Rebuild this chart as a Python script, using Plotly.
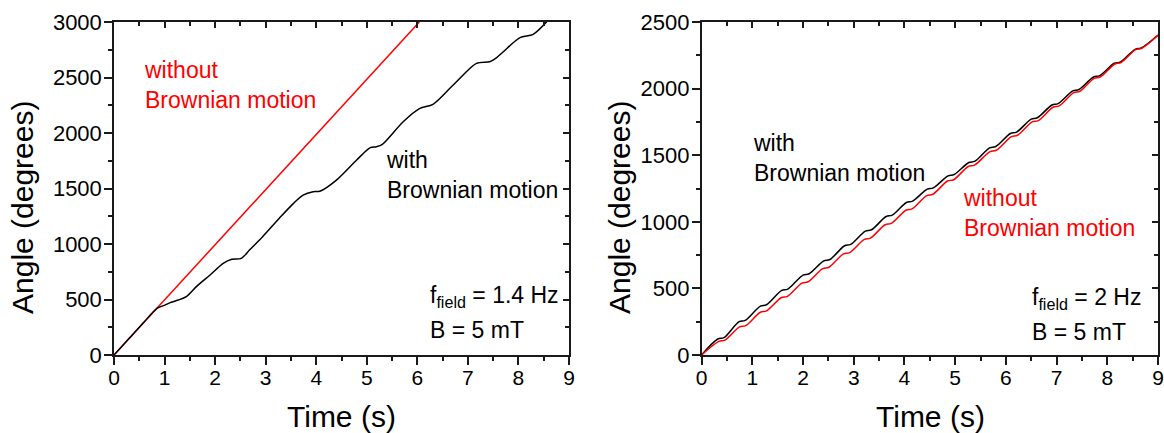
import plotly.graph_objects as go

# ---- Panel 1: f_field = 1.4 Hz, B = 5 mT ----
t_free_1 = [0.0, 6.04]
ang_free_1 = [0, 3000]

t_brown_1 = [0.0, 0.30, 0.60, 0.85, 0.98, 1.10, 1.27, 1.43, 1.63, 1.90, 2.16, 2.33,
             2.52, 2.68, 2.94, 3.27, 3.55, 3.74, 3.94, 4.07, 4.40, 4.80, 5.07, 5.19,
             5.30, 5.72, 6.05, 6.31, 6.71, 7.17, 7.43, 7.57, 7.70, 8.03, 8.29, 8.56]
ang_brown_1 = [0, 150, 300, 420, 445, 470, 495, 526, 616, 721, 826, 862,
               871, 946, 1066, 1232, 1366, 1441, 1471, 1475, 1576, 1757, 1868, 1877,
               1895, 2102, 2222, 2258, 2432, 2627, 2642, 2680, 2732, 2859, 2889, 3003]

# ---- Panel 2: f_field = 2 Hz, B = 5 mT ----
t_free_2 = [0.0, 0.34, 0.46, 0.75, 0.87, 1.16, 1.28, 1.57, 1.69, 1.98, 2.10, 2.39, 2.51,
            2.80, 2.92, 3.21, 3.33, 3.62, 3.74, 4.03, 4.15, 4.44, 4.56, 4.85, 4.97,
            5.26, 5.38, 5.69, 5.81, 6.11, 6.23, 6.52, 6.64, 6.93, 7.05, 7.34, 7.46,
            7.74, 7.86, 8.15, 8.27, 8.56, 8.68, 9.0]
ang_free_2 = [0, 102, 112, 211, 221, 321, 331, 430, 440, 540, 550, 649, 659,
              759, 769, 868, 878, 978, 988, 1087, 1097, 1197, 1207, 1306, 1316,
              1415, 1425, 1527, 1537, 1640, 1650, 1750, 1760, 1860, 1870, 1970, 1980,
              2077, 2087, 2185, 2195, 2293, 2303, 2400]

t_brown_2 = [0.0, 0.32, 0.44, 0.74, 0.86, 1.16, 1.28, 1.58, 1.70, 2.00, 2.12, 2.41, 2.53,
             2.82, 2.94, 3.23, 3.35, 3.64, 3.76, 4.04, 4.16, 4.45, 4.57, 4.86, 4.98,
             5.27, 5.39, 5.68, 5.80, 6.09, 6.21, 6.50, 6.62, 6.91, 7.03, 7.32, 7.44,
             7.73, 7.85, 8.14, 8.26, 8.55, 8.67, 9.0]
ang_brown_2 = [0, 120, 130, 250, 260, 367, 377, 485, 495, 600, 610, 707, 717,
               820, 830, 930, 940, 1040, 1050, 1145, 1155, 1245, 1255, 1345, 1355,
               1445, 1455, 1555, 1565, 1663, 1673, 1771, 1781, 1877, 1887, 1983, 1993,
               2087, 2097, 2190, 2200, 2295, 2305, 2402]

W, H = 1164, 433


def px(x):
    return x / W


def py(y):
    return 1 - y / H


RED = "#ff0000"
INK = "#1a1a1a"
FONT = "Arial, Liberation Sans, sans-serif"

fig = go.Figure()
fig.add_trace(go.Scatter(x=t_free_1, y=ang_free_1, xaxis="x", yaxis="y", mode="lines",
                         line=dict(color=RED, width=1.5)))
fig.add_trace(go.Scatter(x=t_brown_1, y=ang_brown_1, xaxis="x", yaxis="y", mode="lines",
                         line=dict(color="black", width=1.5, shape="spline", smoothing=0.8)))
fig.add_trace(go.Scatter(x=t_brown_2, y=ang_brown_2, xaxis="x2", yaxis="y2", mode="lines",
                         line=dict(color="black", width=1.5, shape="spline", smoothing=1.0)))
fig.add_trace(go.Scatter(x=t_free_2, y=ang_free_2, xaxis="x2", yaxis="y2", mode="lines",
                         line=dict(color=RED, width=1.5, shape="spline", smoothing=1.0)))

ydom = [py(355), py(22)]
xdom1 = [px(114), px(569)]
xdom2 = [px(701.6), px(1158)]

base = dict(showline=True, linecolor=INK, linewidth=1.5, showgrid=False, zeroline=False,
            automargin=False, ticks="outside", ticklen=8, tickwidth=1.5, tickcolor=INK)
xbase = dict(base, range=[0, 9], tick0=0, dtick=1, ticklabelstandoff=-5,
             tickfont=dict(family=FONT, size=21, color="black"),
             minor=dict(ticks="outside", ticklen=4, tickwidth=1.5, tickcolor=INK, dtick=0.5))
ybase = dict(base, tick0=0, dtick=500, ticklabelstandoff=-2,
             tickfont=dict(family=FONT, size=22, color="black"),
             minor=dict(ticks="outside", ticklen=4, tickwidth=1.5, tickcolor=INK, dtick=250))
mirror = dict(showline=True, linecolor=INK, linewidth=1.5, showgrid=False, zeroline=False,
              automargin=False, ticks="inside", ticklen=6, tickwidth=1.5, tickcolor=INK,
              showticklabels=False)
mx = dict(mirror, range=[0, 9], tick0=0, dtick=1,
          minor=dict(ticks="inside", ticklen=4, tickwidth=1.5, tickcolor=INK, dtick=0.5))
my = dict(mirror, tick0=0, dtick=500,
          minor=dict(ticks="inside", ticklen=4, tickwidth=1.5, tickcolor=INK, dtick=250))

fig.update_layout(
    width=W, height=H,
    margin=dict(l=0, r=0, t=0, b=0),
    paper_bgcolor="white", plot_bgcolor="white",
    showlegend=False,
    xaxis=dict(xbase, domain=xdom1, anchor="y"),
    yaxis=dict(ybase, domain=ydom, anchor="x", range=[0, 3000]),
    xaxis2=dict(xbase, domain=xdom2, anchor="y2"),
    yaxis2=dict(ybase, domain=ydom, anchor="x2", range=[0, 2500]),
    xaxis3=dict(mx, overlaying="x", anchor="y", side="top"),
    yaxis3=dict(my, overlaying="y", anchor="x", side="right", range=[0, 3000]),
    xaxis4=dict(mx, overlaying="x2", anchor="y2", side="top"),
    yaxis4=dict(my, overlaying="y2", anchor="x2", side="right", range=[0, 2500]),
)

# Empty traces so the mirror axes are drawn
for xa, ya in (("x3", "y3"), ("x4", "y4")):
    fig.add_trace(go.Scatter(x=[None], y=[None], xaxis=xa, yaxis=ya, mode="lines",
                             hoverinfo="skip"))

title_font = dict(family=FONT, size=30, color="black")
label_font = dict(family=FONT, size=23, color="black")
red_font = dict(family=FONT, size=23, color=RED)


def note(x, y, text, font, **kw):
    fig.add_annotation(x=px(x), y=py(y), xref="paper", yref="paper", text=text,
                       showarrow=False, font=font, xanchor=kw.get("xanchor", "left"),
                       yanchor="middle", align="left", textangle=kw.get("angle", 0))


# Axis titles
note(341.5, 416, "Time (s)", title_font, xanchor="center")
note(930, 416, "Time (s)", title_font, xanchor="center")
note(22, 208, "Angle (degrees)", title_font, xanchor="center", angle=-90)
note(619, 208, "Angle (degrees)", title_font, xanchor="center", angle=-90)

# Panel 1 labels
note(142, 85, "without<br>Brownian motion", red_font)
note(384, 175, "with<br>Brownian motion", label_font)
note(428, 296, "f<sub>field</sub> = 1.4 Hz", label_font)
note(428, 330, "B = 5 mT", label_font)

# Panel 2 labels
note(751, 158, "with<br>Brownian motion", label_font)
note(961, 213, "without<br>Brownian motion", red_font)
note(1030, 298, "f<sub>field</sub> = 2 Hz", label_font)
note(1030, 332, "B = 5 mT", label_font)

fig.write_html("out.html")
